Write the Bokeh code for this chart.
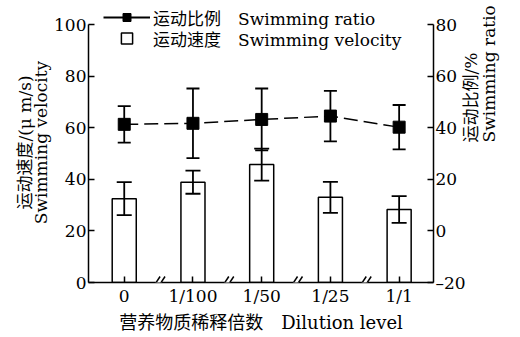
import math
from bokeh.plotting import figure
from bokeh.models import (Range1d, LinearAxis, FixedTicker, Whisker, TeeHead, ColumnDataSource,
                          Legend, LegendItem, Arrow)
from bokeh.embed import file_html
from bokeh.resources import INLINE

# ---- data ----
dilution_labels = ["0", "1/100", "1/50", "1/25", "1/1"]
velocity_mean = [32.5, 38.9, 45.7, 33.0, 28.3]
velocity_err = [6.4, 4.5, 6.2, 6.0, 5.2]
ratio_mean = [41.3, 41.7, 43.2, 44.5, 40.2]
ratio_err = [7.1, 13.5, 12.0, 9.8, 8.6]
left_ticks = [0, 20, 40, 60, 80, 100]
right_ticks = [-20, 0, 20, 40, 60, 80]

SERIF = "DejaVu Serif, Noto Sans CJK SC"
FS = "17px"

x = list(range(len(dilution_labels)))
src = ColumnDataSource(dict(
    x=x,
    v=velocity_mean,
    vlo=[m - e for m, e in zip(velocity_mean, velocity_err)],
    vhi=[m + e for m, e in zip(velocity_mean, velocity_err)],
    r=ratio_mean,
    rlo=[m - e for m, e in zip(ratio_mean, ratio_err)],
    rhi=[m + e for m, e in zip(ratio_mean, ratio_err)],
))

W, H = 520, 337
BL, BR, BT, BB = 88, 83, 2, 55
FW, FH = W - BL - BR, H - BT - BB
AXIS_H = 258                      # pixel height of the 0..100 axis span
SPAN = left_ticks[-1] - left_ticks[0]
EXTRA = SPAN * (FH - AXIS_H) / AXIS_H   # headroom above the axes for the legend
X0, X1 = -0.52, 4.5
p = figure(width=W, height=H, output_backend="svg", toolbar_location=None,
           x_range=Range1d(X0, X1),
           y_range=Range1d(left_ticks[0], left_ticks[-1] + EXTRA),
           min_border_left=BL, min_border_right=BR, min_border_top=BT, min_border_bottom=BB)
p.extra_y_ranges = {"ratio": Range1d(right_ticks[0], right_ticks[-1] + EXTRA)}
p.outline_line_color = None
p.grid.visible = False
p.title.visible = False

right = LinearAxis(y_range_name="ratio")
p.add_layout(right, "right")


def style_axis(ax):
    ax.axis_line_width = 1.5
    ax.axis_line_color = "black"
    ax.major_tick_in = 6
    ax.major_tick_out = 0
    ax.minor_tick_in = 0
    ax.minor_tick_out = 0
    ax.major_tick_line_width = 1.5
    ax.major_label_text_font = SERIF
    ax.major_label_text_font_size = FS
    ax.major_label_text_color = "black"
    ax.axis_label_text_font = SERIF
    ax.axis_label_text_font_size = FS
    ax.axis_label_text_font_style = "normal"
    ax.axis_label_text_color = "black"
    ax.axis_label_text_line_height = 0.8


for ax in [p.xaxis[0], p.yaxis[0], right]:
    style_axis(ax)

p.xaxis[0].ticker = FixedTicker(ticks=x)
p.xaxis[0].major_label_overrides = {i: lab for i, lab in zip(x, dilution_labels)}
p.xaxis[0].axis_label = "营养物质稀释倍数\u3000Dilution level"
p.xaxis[0].axis_label_text_font_size = "18px"
p.xaxis[0].major_label_standoff = 3
p.xaxis[0].axis_label_standoff = 3

p.yaxis[0].ticker = FixedTicker(ticks=left_ticks)
p.yaxis[0].bounds = (left_ticks[0], left_ticks[-1])
p.yaxis[0].axis_label = "运动速度/(μ m/s)\nSwimming velocity"
p.yaxis[0].major_label_standoff = 2
p.yaxis[0].axis_label_standoff = 0

right.ticker = FixedTicker(ticks=right_ticks)
right.bounds = (right_ticks[0], right_ticks[-1])
right.major_label_overrides = {t: ("\u2013" + str(-t) if t < 0 else str(t)) for t in right_ticks}
right.axis_label = "运动比例/%\nSwimming ratio"
right.axis_label_orientation = math.pi / 2
right.axis_label_text_line_height = 0.9
right.major_label_standoff = 2
right.axis_label_standoff = 11

# ---- bars ----
p.vbar(x="x", top="v", bottom=0, width=0.35, fill_color="white", line_color="black",
       line_width=1.5, source=src)
p.add_layout(Whisker(base="x", lower="vlo", upper="vhi", source=src, level="annotation",
                     line_width=1.8, line_color="black",
                     upper_head=TeeHead(size=15, line_width=1.8),
                     lower_head=TeeHead(size=15, line_width=1.8)))

# ---- ratio line ----
p.line(x="x", y="r", source=src, y_range_name="ratio", line_color="black",
       line_width=1.5, line_dash="14 6")
p.scatter(x="x", y="r", source=src, y_range_name="ratio", marker="square", size=12,
          fill_color="black", line_color="black")
p.add_layout(Whisker(base="x", lower="rlo", upper="rhi", source=src, level="annotation",
                     y_range_name="ratio", line_width=1.8, line_color="black",
                     upper_head=TeeHead(size=13, line_width=1.8),
                     lower_head=TeeHead(size=13, line_width=1.8)))

# ---- axis break marks ----
pxx = (X1 - X0) / FW
pxy = SPAN / AXIS_H
mids = [(a + b) / 2 for a, b in zip(x[:-1], x[1:])]
gap = ColumnDataSource(dict(xs=[m - 3 * pxx for m in mids], xe=[m + 3 * pxx for m in mids],
                            ys=[0] * len(mids), ye=[0] * len(mids)))
p.add_layout(Arrow(start=None, end=None, x_start="xs", y_start="ys", x_end="xe", y_end="ye",
                   source=gap, line_color="white", line_width=3))
sl_xs, sl_xe, sl_ys, sl_ye = [], [], [], []
for m in mids:
    for off in (-2.5, 2.5):
        c = m + off * pxx
        sl_xs.append(c - 4 * pxx)
        sl_xe.append(c + 4 * pxx)
        sl_ys.append(-6 * pxy)
        sl_ye.append(6 * pxy)
slashes = ColumnDataSource(dict(xs=sl_xs, xe=sl_xe, ys=sl_ys, ye=sl_ye))
p.add_layout(Arrow(start=None, end=None, x_start="xs", y_start="ys", x_end="xe", y_end="ye",
                   source=slashes, line_color="black", line_width=1.5))

# ---- legends (invisible proxy glyphs) ----
leg_line = p.line(x=[0, 1], y=[0, 0], line_color="black", line_width=2, visible=False)
leg_sq = p.scatter(x=[0], y=[0], marker="square", fill_color="black", line_color="black",
                   visible=False)
leg_hollow = p.scatter(x=[0], y=[0], marker="square", fill_color="white", line_color="black",
                       line_width=1.5, visible=False)


def make_legend(label, rends, gh, lh, loc):
    lg = Legend(items=[LegendItem(label=label, renderers=rends)], location=loc,
                glyph_width=47, glyph_height=gh, label_height=lh, label_standoff=3,
                padding=0, margin=0, border_line_color=None, background_fill_alpha=0,
                label_text_font=SERIF, label_text_font_size=FS, label_text_color="black")
    p.add_layout(lg, "center")
    return lg


make_legend("运动比例\u3000Swimming ratio", [leg_line, leg_sq], 20, 25, (15, AXIS_H - 5.5))
make_legend("运动速度\u3000Swimming velocity", [leg_hollow], 28, 28, (15, AXIS_H - 28))

open("out.html", "w").write(file_html(p, INLINE))
